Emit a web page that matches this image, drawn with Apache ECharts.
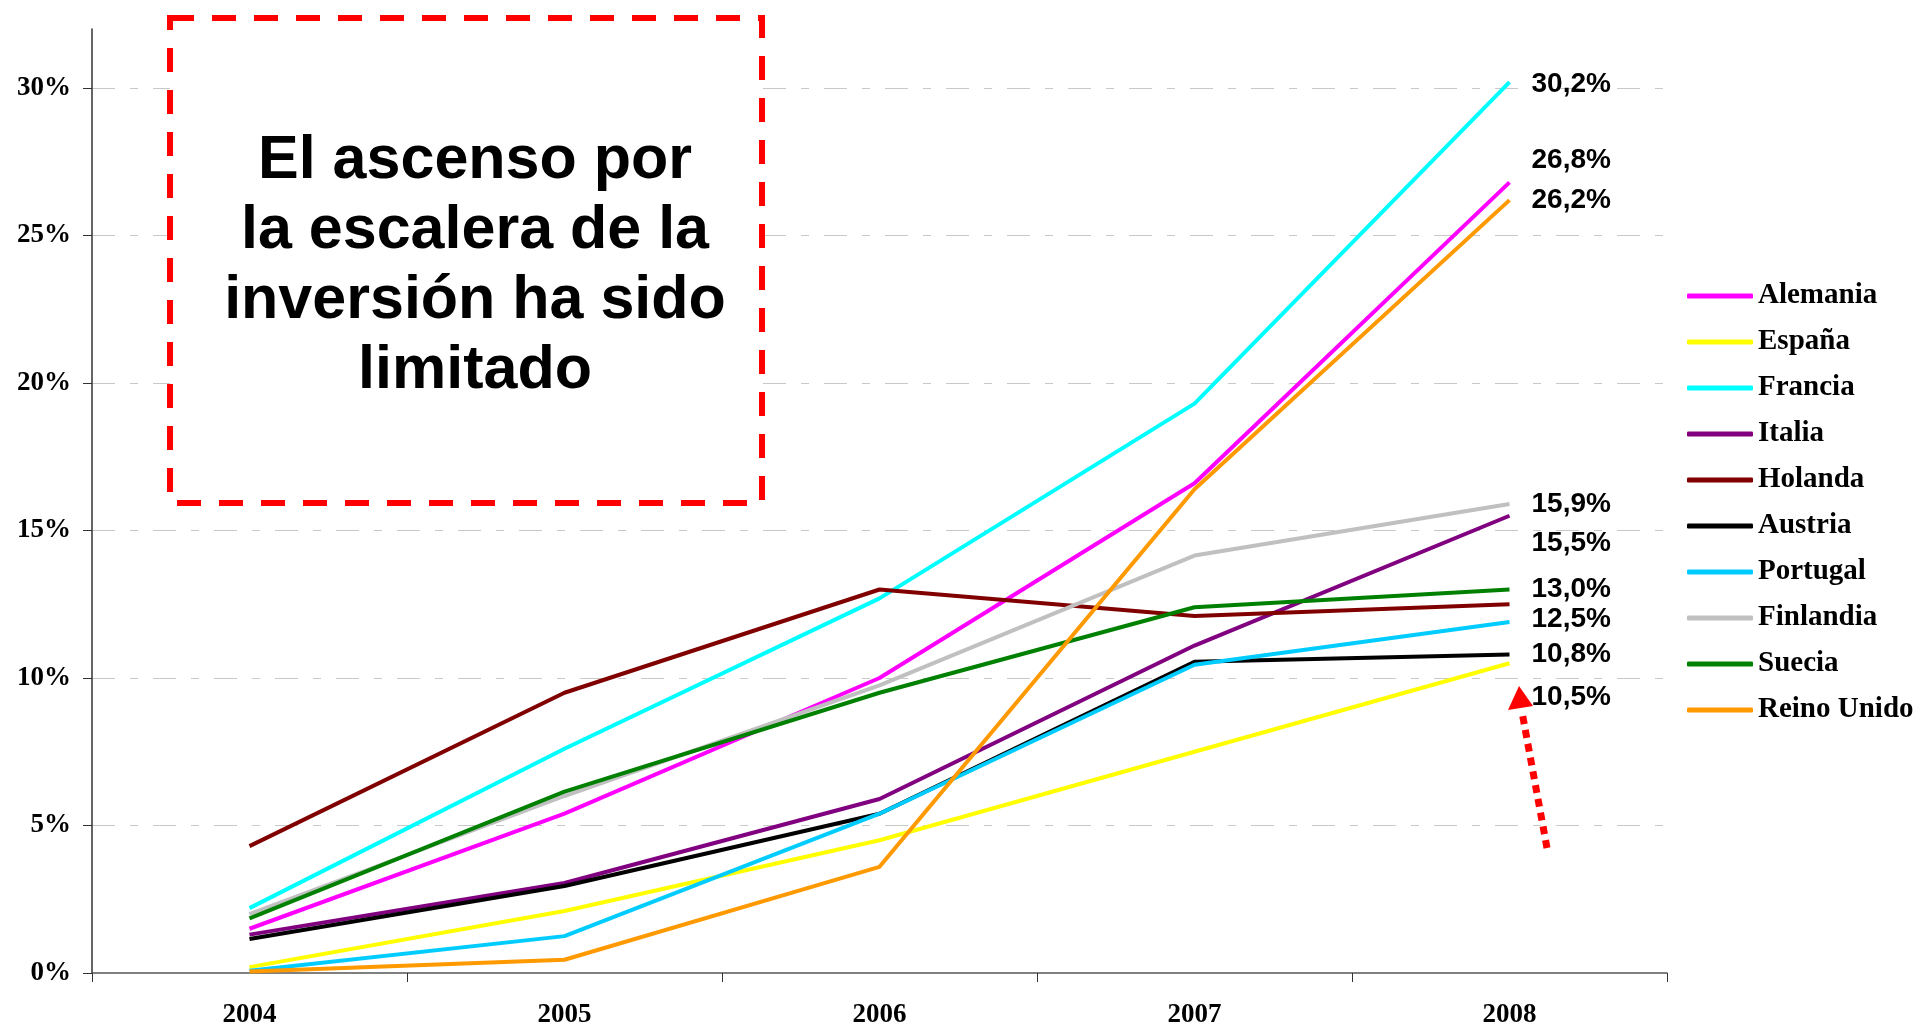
<!DOCTYPE html>
<html>
<head>
<meta charset="utf-8">
<script src="https://cdn.jsdelivr.net/npm/echarts@6/dist/echarts.min.js"></script>
<style>
  html, body { margin: 0; padding: 0; background: #fff; }
  #chart { width: 1918px; height: 1029px; }
</style>
</head>
<body>
<div id="chart"></div>
<script>
// años
var years = ['2004', '2005', '2006', '2007', '2008'];
// marcas del eje y (%)
var yTicks = [0, 5, 10, 15, 20, 25, 30];

// valores (%)
var alemania   = [1.5, 5.4, 10.0, 16.6, 26.8];
var espana     = [0.2, 2.1, 4.5, 7.5, 10.5];
var francia    = [2.2, 7.6, 12.7, 19.3, 30.2];
var italia     = [1.3, 3.05, 5.9, 11.1, 15.5];
var holanda    = [4.3, 9.5, 13.0, 12.1, 12.5];
var austria    = [1.15, 2.95, 5.4, 10.55, 10.8];
var portugal   = [0.08, 1.25, 5.4, 10.45, 11.9];
var finlandia  = [2.0, 6.0, 9.75, 14.15, 15.9];
var suecia     = [1.85, 6.15, 9.5, 12.4, 13.0];
var reinoUnido = [0.05, 0.45, 3.6, 16.4, 26.2];

var myChart = echarts.init(document.getElementById('chart'));

var serifBold = { fontFamily: 'Liberation Serif', fontWeight: 'bold', color: '#000' };

function pct(p) {
    return p.value.toFixed(1).replace('.', ',') + '%';
}

// serie de linea; dy = desplazamiento vertical de la etiqueta final (null = sin etiqueta)
function linea(name, data, color, dy) {
    var s = {
        name: name,
        type: 'line',
        data: data,
        showSymbol: false,
        symbol: 'none',
        lineStyle: { color: color, width: 4 },
        itemStyle: { color: color },
        emphasis: { disabled: true }
    };
    if (dy !== null) {
        s.endLabel = {
            show: true,
            formatter: pct,
            distance: 22,
            offset: [0, dy],
            fontFamily: 'Liberation Sans',
            fontWeight: 'bold',
            fontSize: 28,
            color: '#000'
        };
    }
    return s;
}

var option = {
    animation: false,
    backgroundColor: '#fff',
    grid: { left: 92, right: 251, top: 29, bottom: 54, containLabel: false },
    legend: {
        orient: 'vertical',
        left: 1682,
        top: 276,
        icon: 'roundRect',
        itemWidth: 66,
        itemHeight: 5,
        itemGap: 16,
        selectedMode: false,
        textStyle: Object.assign({ fontSize: 29, lineHeight: 30 }, serifBold),
        data: ['Alemania', 'España', 'Francia', 'Italia', 'Holanda', 'Austria',
               'Portugal', 'Finlandia', 'Suecia', 'Reino Unido']
    },
    xAxis: {
        type: 'category',
        data: years,
        boundaryGap: true,
        axisLine: { lineStyle: { color: '#555', width: 1.5 } },
        axisTick: { show: true, length: 9, lineStyle: { color: '#333' } },
        axisLabel: Object.assign({ fontSize: 27, margin: 29 }, serifBold),
        splitLine: { show: false }
    },
    yAxis: {
        type: 'value',
        min: 0,
        max: 32,
        interval: 5,
        axisLine: { show: true, lineStyle: { color: '#333', width: 1.5 } },
        axisTick: { show: true, length: 9, customValues: yTicks, lineStyle: { color: '#333' } },
        axisLabel: Object.assign({
            fontSize: 27,
            margin: 21,
            customValues: yTicks,
            formatter: function (v) { return v + '%'; }
        }, serifBold),
        splitLine: {
            show: true,
            showMinLine: false,
            lineStyle: { color: '#c8c8c8', width: 1, type: [23, 15, 8, 15] }
        }
    },
    series: [
        linea('Alemania', alemania, '#ff00ff', -22),
        linea('España', espana, '#ffff00', 34),
        linea('Francia', francia, '#00ffff', 2),
        linea('Italia', italia, '#800080', 28),
        linea('Holanda', holanda, '#800000', 15),
        linea('Austria', austria, '#000000', 0),
        linea('Portugal', portugal, '#00ccff', null),
        linea('Finlandia', finlandia, '#c0c0c0', 0),
        linea('Suecia', suecia, '#008000', 0),
        linea('Reino Unido', reinoUnido, '#ff9900', 0)
    ],
    graphic: [
        // recuadro rojo discontinuo con el mensaje
        {
            type: 'rect',
            z: 100,
            shape: { x: 170, y: 18, width: 592, height: 485 },
            style: { fill: '#fff', stroke: '#ff0000', lineWidth: 6, lineDash: [24, 18] }
        },
        {
            type: 'text',
            z: 101,
            x: 475,
            y: 266,
            style: {
                text: 'El ascenso por\nla escalera de la\ninversión ha sido\nlimitado',
                font: 'bold 61px "Liberation Sans", Arial, sans-serif',
                fill: '#000',
                align: 'center',
                verticalAlign: 'middle',
                lineHeight: 70
            }
        },
        // flecha roja punteada
        {
            type: 'line',
            z: 100,
            shape: { x1: 1547, y1: 848, x2: 1522, y2: 712 },
            style: { stroke: '#ff0000', lineWidth: 7, lineDash: [8, 6] }
        },
        {
            type: 'polygon',
            z: 100,
            shape: { points: [[1519, 686], [1508, 710], [1533, 706]] },
            style: { fill: '#ff0000' }
        }
    ]
};

myChart.setOption(option);
</script>
</body>
</html>
